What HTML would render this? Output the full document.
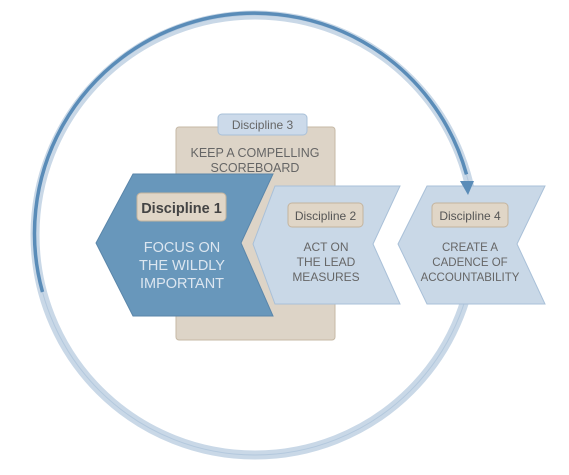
<!DOCTYPE html>
<html><head><style>
body{margin:0;background:#fff;width:569px;height:475px;overflow:hidden}
svg{display:block}
text{font-family:"Liberation Sans",sans-serif;text-anchor:middle}
</style></head><body>
<svg width="569" height="475" viewBox="0 0 569 475">
<circle cx="255" cy="235" r="220" fill="none" stroke="#c9d8e7" stroke-width="9"/>
<circle cx="255" cy="235" r="220" fill="none" stroke="#b3c8dd" stroke-width="1" />
<path d="M42.5 292 A220 220 0 1 1 466.5 174.4" fill="none" stroke="#5a8cb8" stroke-width="3.5"/>
<rect x="176" y="127" width="159" height="213" rx="3" fill="#ddd4c7" stroke="#c6b9a6"/>
<rect x="218" y="114" width="89" height="21" rx="4" fill="#ccdaea" stroke="#a9c0d8"/>
<text x="262.5" y="129" font-size="12" fill="#666">Discipline 3</text>
<text x="255" y="157" font-size="12.5" fill="#666">KEEP A COMPELLING</text>
<text x="255" y="172" font-size="12.5" fill="#666">SCOREBOARD</text>
<polygon points="133,174 273,174 241,243 273,316 133,316 96,243" fill="#6897bb" stroke="#5a86aa"/>
<rect x="137" y="193" width="89" height="28" rx="4" fill="#e0d6c7" stroke="#c4b49e"/>
<text x="181.5" y="213" font-size="14.5" font-weight="bold" fill="#444">Discipline 1</text>
<text x="182" y="252" font-size="14.5" fill="#dce6f0">FOCUS ON</text>
<text x="182" y="270" font-size="14.5" fill="#dce6f0">THE WILDLY</text>
<text x="182" y="288" font-size="14.5" fill="#dce6f0">IMPORTANT</text>
<polygon points="275,186 400,186 373,244 400,304 275,304 253,244" fill="#c9d8e7" stroke="#a9c0d8"/>
<rect x="288" y="203" width="75" height="24" rx="4" fill="#e0d6c7" stroke="#c4b49e"/>
<text x="325.5" y="220" font-size="12" fill="#555">Discipline 2</text>
<text x="326" y="251" font-size="12" fill="#666">ACT ON</text>
<text x="326" y="266" font-size="12" fill="#666">THE LEAD</text>
<text x="326" y="281" font-size="12" fill="#666">MEASURES</text>
<polygon points="427,186 545,186 517,244 545,304 427,304 398,244" fill="#c9d8e7" stroke="#a9c0d8"/>
<rect x="432" y="203" width="76" height="24" rx="4" fill="#e0d6c7" stroke="#c4b49e"/>
<text x="470" y="220" font-size="12" fill="#555">Discipline 4</text>
<text x="470" y="251" font-size="11.5" fill="#666">CREATE A</text>
<text x="470" y="266" font-size="11.5" fill="#666">CADENCE OF</text>
<text x="470" y="281" font-size="11.5" fill="#666">ACCOUNTABILITY</text>
<polygon points="460,181 474,181 468,195" fill="#5a8cb8"/>
</svg>
</body></html>
